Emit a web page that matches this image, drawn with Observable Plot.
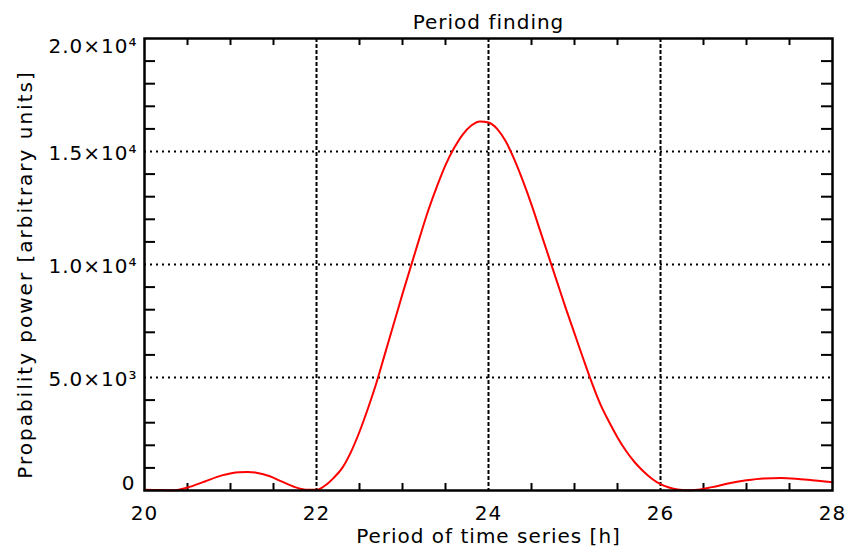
<!DOCTYPE html>
<html>
<head>
<meta charset="utf-8">
<script src="https://cdn.jsdelivr.net/npm/d3@7"></script>
<script src="https://cdn.jsdelivr.net/npm/@observablehq/plot@0.6"></script>
<style>
  body { margin: 0; background: #fff; }
</style>
</head>
<body>
<div id="chart"></div>
<script>
// Data
const period = [20.00, 20.20, 20.35, 20.50, 20.70, 20.90, 21.10, 21.20, 21.30, 21.45, 21.60, 21.75, 21.90, 22.00,
  22.10, 22.20, 22.30, 22.40, 22.50, 22.60, 22.70, 22.80, 22.90, 23.00,
  23.10, 23.20, 23.30, 23.40, 23.50, 23.60, 23.70, 23.80, 23.90, 24.00,
  24.10, 24.20, 24.30, 24.40, 24.50, 24.60, 24.70, 24.80, 24.90, 25.00,
  25.10, 25.20, 25.30, 25.40, 25.50, 25.60, 25.70, 25.80, 25.90, 26.00,
  26.10, 26.20, 26.30, 26.40, 26.60, 26.80, 27.00, 27.20, 27.40, 27.60, 27.80, 28.00];
const power = [30, 20, 10, 130, 400, 670, 810, 820, 790, 640, 390, 150, 30, 30,
  220, 560, 1000, 1700, 2600, 3650, 4800, 6100, 7400, 8700,
  9950, 11200, 12400, 13450, 14400, 15150, 15750, 16150, 16330, 16280,
  16000, 15450, 14650, 13700, 12650, 11500, 10350, 9200, 8050, 6950,
  5850, 4780, 3820, 3050, 2350, 1750, 1250, 850, 520, 280,
  130, 40, 10, 20, 150, 320, 450, 530, 550, 510, 440, 360];

const xTicks = [20, 22, 24, 26, 28];
const xGrid = [22, 24, 26];
const xMinor = [20.5, 21, 21.5, 22.5, 23, 23.5, 24.5, 25, 25.5, 26.5, 27, 27.5];
const yMidTicks = [5000, 10000, 15000];
const yGrid = [5000, 10000, 15000];
const yMinor = [1000, 2000, 3000, 4000, 6000, 7000, 8000, 9000, 11000, 12000, 13000, 14000, 16000, 17000, 18000, 19000];
const yTickLabels = {0: "0", 5000: "5.0×10³", 10000: "1.0×10⁴", 15000: "1.5×10⁴", 20000: "2.0×10⁴"};

const title = "Period finding";
const xLabel = "Period of time series [h]";
const yLabel = "Propability power [arbitrary units]";

const data = period.map((p, i) => ({p, v: power[i]}));

const W = 846, H = 550;
const mL = 144, mR = 14, mT = 38, mB = 60;
const innerW = W - mL - mR, innerH = H - mT - mB;
const xTickLen = 7, yTickLen = 11;

const fmt = d => yTickLabels[d];

const chart = Plot.plot({
  width: W,
  height: H,
  marginLeft: mL,
  marginRight: mR,
  marginTop: mT,
  marginBottom: mB,
  style: {fontFamily: "'DejaVu Sans', sans-serif", fontSize: "20px", letterSpacing: "1px", color: "black", background: "white"},
  x: {domain: [20, 28]},
  y: {domain: [0, 20000]},
  marks: [
    // grid
    Plot.ruleX(xGrid, {stroke: "black", strokeWidth: 2, strokeDasharray: "4,2"}),
    Plot.ruleY(yGrid, {stroke: "black", strokeWidth: 2, strokeDasharray: "2,4"}),
    // minor ticks, inward on all four sides
    Plot.tickX(xMinor, {x: d => d, insetTop: innerH - xTickLen, stroke: "black", strokeWidth: 2}),
    Plot.tickX(xMinor, {x: d => d, insetBottom: innerH - xTickLen, stroke: "black", strokeWidth: 2}),
    Plot.tickY(yMinor, {y: d => d, insetRight: innerW - yTickLen, stroke: "black", strokeWidth: 2}),
    Plot.tickY(yMinor, {y: d => d, insetLeft: innerW - yTickLen, stroke: "black", strokeWidth: 2}),
    // curve
    Plot.line(data, {x: "p", y: "v", stroke: "#ff0000", strokeWidth: 2, curve: "monotone-x"}),
    Plot.frame({stroke: "black", strokeWidth: 2.5}),
    // axes labels
    Plot.axisX(xTicks, {anchor: "bottom", tickSize: 0, tickPadding: 15, label: null, fill: "black"}),
    Plot.axisY(yMidTicks, {anchor: "left", tickSize: 0, tickPadding: 7, dy: 2, tickFormat: fmt, label: null, fill: "black"}),
    Plot.axisY([0], {anchor: "left", tickSize: 0, tickPadding: 9, dy: -7, tickFormat: fmt, label: null, fill: "black"}),
    Plot.axisY([20000], {anchor: "left", tickSize: 0, tickPadding: 7, dy: 8, tickFormat: fmt, label: null, fill: "black"}),
    // titles
    Plot.text([title], {frameAnchor: "top", dy: -10, lineAnchor: "bottom", fill: "black"}),
    Plot.text([xLabel], {frameAnchor: "bottom", dy: 52, lineAnchor: "bottom", fill: "black"}),
    Plot.text([yLabel], {frameAnchor: "left", dx: -113, dy: 10, rotate: -90, textAnchor: "middle", lineAnchor: "bottom", fill: "black", style: {letterSpacing: "2px"}})
  ]
});
// wider letter spacing for the rotated y label
chart.querySelectorAll("text").forEach(t => { if (t.textContent === yLabel) t.setAttribute("letter-spacing", "2px"); });
document.getElementById("chart").appendChild(chart);
</script>
</body>
</html>
